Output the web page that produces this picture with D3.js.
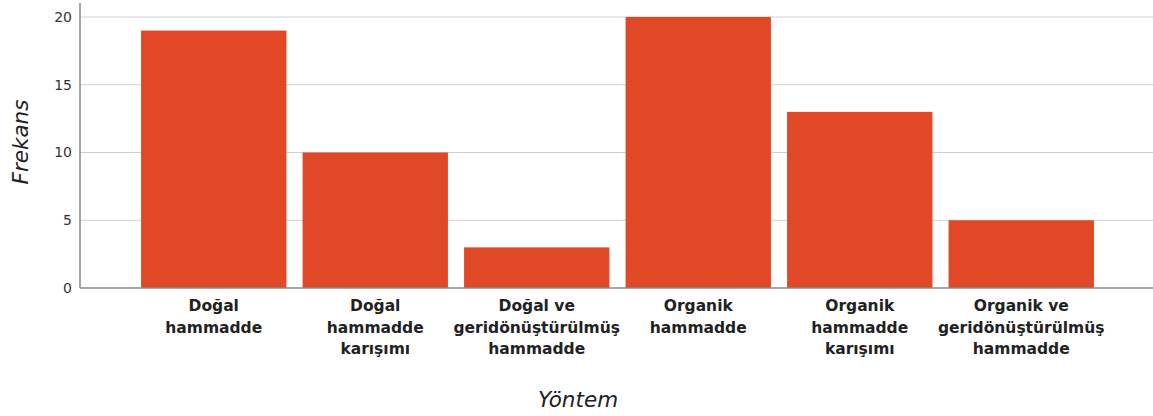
<!DOCTYPE html>
<html>
<head>
<meta charset="utf-8">
<script src="https://cdn.jsdelivr.net/npm/d3@7"></script>
<style>
  body { margin: 0; background: #fff; }
  svg { display: block; }
</style>
</head>
<body>
<script>
// data
const categories = [
  ["Doğal", "hammadde"],
  ["Doğal", "hammadde", "karışımı"],
  ["Doğal ve", "geridönüştürülmüş", "hammadde"],
  ["Organik", "hammadde"],
  ["Organik", "hammadde", "karışımı"],
  ["Organik ve", "geridönüştürülmüş", "hammadde"]
];
const frequencies = [19, 10, 3, 20, 13, 5];
const yTicks = [0, 5, 10, 15, 20];

let canvasW = 1153;
let canvasH = 416;
let plotLeft = 80, plotRight = 1153, plotTop = 3, plotBottom = 288;

let svg = d3.select("body")
  .append("svg")
    .attr("width", canvasW)
    .attr("height", canvasH)
    .style("font-family", "'DejaVu Sans', sans-serif");

let xScale = d3.scaleBand()
  .domain(d3.range(categories.length))
  .range([133, 1102])
  .paddingInner(0.1)
  .paddingOuter(0.05);

let yScale = d3.scaleLinear()
  .domain([0, 20])
  .range([plotBottom, 17]);

// grid lines
svg.append("g")
  .selectAll("line")
  .data(yTicks.filter(t => t > 0))
  .join("line")
    .attr("x1", plotLeft)
    .attr("x2", plotRight)
    .attr("y1", d => yScale(d))
    .attr("y2", d => yScale(d))
    .attr("stroke", "#cfcfcf")
    .attr("stroke-width", 1.2);

// bars
svg.append("g")
  .selectAll("rect")
  .data(frequencies)
  .join("rect")
    .attr("x", (d, i) => xScale(i))
    .attr("y", d => yScale(d))
    .attr("width", xScale.bandwidth())
    .attr("height", d => yScale(0) - yScale(d))
    .attr("fill", "#e04826");

// y axis
const yAxis = svg.append("g")
  .attr("transform", `translate(${plotLeft},0)`)
  .call(d3.axisLeft(yScale).tickValues(yTicks).tickSize(0).tickPadding(8));
yAxis.select(".domain").remove();
yAxis.selectAll("text")
  .attr("font-size", "14px")
  .attr("fill", "#333")
  .style("font-family", "'DejaVu Sans', sans-serif");

svg.append("line")
  .attr("x1", plotLeft).attr("x2", plotLeft)
  .attr("y1", plotTop).attr("y2", plotBottom)
  .attr("stroke", "#888").attr("stroke-width", 1.5);
svg.append("line")
  .attr("x1", plotLeft).attr("x2", plotRight)
  .attr("y1", plotBottom).attr("y2", plotBottom)
  .attr("stroke", "#888").attr("stroke-width", 1.5);

// category labels
const labels = svg.append("g")
  .selectAll("text")
  .data(categories)
  .join("text")
    .attr("text-anchor", "middle")
    .attr("font-size", "15.5px")
    .attr("font-weight", "bold")
    .attr("fill", "#222")
    .attr("x", (d, i) => xScale(i) + xScale.bandwidth() / 2)
    .attr("y", 311);
labels.selectAll("tspan")
  .data(d => d)
  .join("tspan")
    .attr("x", function() { return this.parentNode.getAttribute("x"); })
    .attr("dy", (d, i) => i === 0 ? 0 : 21.5)
    .text(d => d);

// axis titles
svg.append("text")
  .attr("x", 578)
  .attr("y", 407)
  .attr("text-anchor", "middle")
  .attr("font-size", "21.5px")
  .attr("font-style", "italic")
  .attr("fill", "#222")
  .text("Yöntem");

svg.append("text")
  .attr("text-anchor", "middle")
  .attr("font-size", "21.5px")
  .attr("font-style", "italic")
  .attr("fill", "#222")
  .attr("transform", "translate(28,142) rotate(-90)")
  .text("Frekans");
</script>
</body>
</html>
